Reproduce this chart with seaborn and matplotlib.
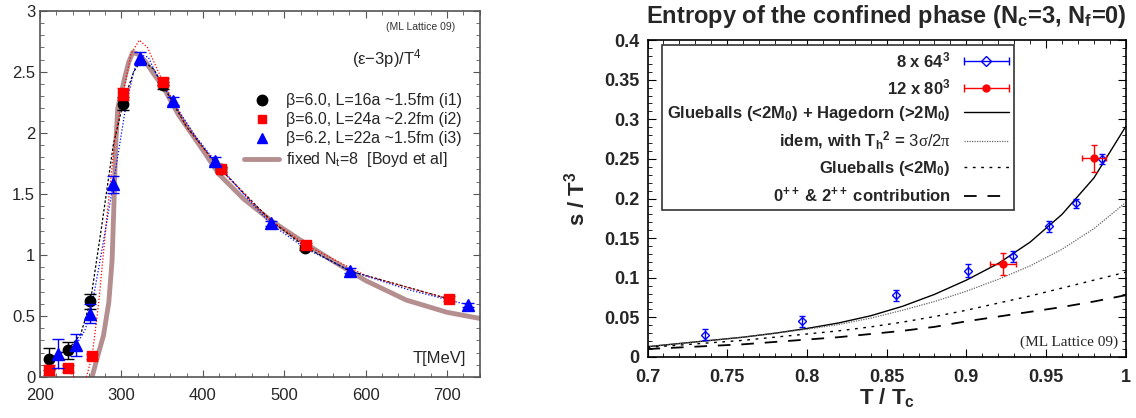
import matplotlib
matplotlib.use("Agg")
import matplotlib.pyplot as plt
import seaborn as sns
from matplotlib.lines import Line2D
from matplotlib.legend_handler import HandlerBase
from matplotlib.ticker import MultipleLocator, FuncFormatter

# ---- left panel: (e-3p)/T^4 vs T[MeV] ----
i1_T = [211, 234, 262, 302, 351, 422, 526]
i1_val = [0.15, 0.22, 0.62, 2.24, 2.39, 1.70, 1.06]
i1_err = [0.09, 0.07, 0.06, 0.05, 0.03, 0.02, 0.02]

i2_T = [211, 234, 264, 302, 351, 422, 527, 702]
i2_val = [0.06, 0.07, 0.17, 2.32, 2.42, 1.70, 1.08, 0.64]
i2_err = [0.04, 0.03, 0.02, 0.05, 0.03, 0.02, 0.02, 0.02]

i3_T = [222, 244, 262, 290, 323, 363, 415, 484, 581, 726]
i3_val = [0.19, 0.26, 0.52, 1.58, 2.61, 2.26, 1.77, 1.26, 0.87, 0.59]
i3_err = [0.12, 0.09, 0.08, 0.07, 0.05, 0.03, 0.03, 0.02, 0.02, 0.02]

# dotted guide curves
i1_curve_T = [211, 234, 250, 262, 275, 290, 302, 315, 325, 340, 351, 380, 422, 484, 527, 580, 702]
i1_curve_v = [0.15, 0.22, 0.35, 0.62, 1.20, 1.90, 2.24, 2.50, 2.60, 2.52, 2.39, 2.05, 1.70, 1.28, 1.06, 0.87, 0.64]
i2_curve_T = [211, 234, 242, 248, 257, 264, 272, 282, 292, 302, 312, 322, 332, 342, 351, 380, 422, 480, 527, 600, 702]
i2_curve_v = [0.06, 0.07, 0.0, -0.05, 0.0, 0.17, 0.60, 1.30, 1.95, 2.32, 2.65, 2.76, 2.70, 2.55, 2.42, 2.05, 1.70, 1.30, 1.08, 0.83, 0.64]
i3_curve_T = [222, 244, 255, 262, 275, 290, 305, 315, 323, 333, 345, 363, 390, 415, 450, 484, 527, 581, 650, 726]
i3_curve_v = [0.19, 0.26, 0.38, 0.52, 1.00, 1.58, 2.20, 2.50, 2.64, 2.62, 2.45, 2.26, 1.98, 1.77, 1.50, 1.25, 1.05, 0.87, 0.72, 0.59]

boyd_T = [264, 270, 278, 284.5, 288.6, 291, 293, 295.5, 300, 304, 309, 314, 322, 330, 340, 351, 370, 400,
          420, 450, 484, 527, 560, 600, 650, 700, 740]
boyd_v = [0.0, 0.15, 0.34, 0.61, 0.96, 1.45, 1.90, 2.20, 2.33, 2.45, 2.58, 2.66, 2.64, 2.58, 2.48, 2.38, 2.15, 1.86,
          1.66, 1.46, 1.28, 1.09, 0.95, 0.79, 0.63, 0.53, 0.48]

# ---- right panel: s/T^3 vs T/Tc ----
lat8_x = [0.736, 0.797, 0.856, 0.901, 0.929, 0.952, 0.969, 0.985]
lat8_y = [0.028, 0.045, 0.078, 0.109, 0.127, 0.165, 0.194, 0.250]
lat8_err = [0.007, 0.007, 0.007, 0.008, 0.007, 0.007, 0.006, 0.006]

lat12_x = [0.923, 0.980]
lat12_y = [0.117, 0.251]
lat12_xerr = [0.008, 0.0075]
lat12_yerr = [0.014, 0.017]

curve_x = [0.70, 0.72, 0.74, 0.76, 0.78, 0.80, 0.82, 0.84, 0.86, 0.88, 0.90, 0.92, 0.94, 0.96, 0.98, 1.00]
glue_hag = [0.013, 0.017, 0.021, 0.025, 0.030, 0.036, 0.043, 0.052, 0.064, 0.079, 0.097, 0.118, 0.145, 0.180, 0.226, 0.291]
idem_th = [0.013, 0.017, 0.021, 0.025, 0.030, 0.035, 0.041, 0.049, 0.059, 0.070, 0.083, 0.098, 0.115, 0.136, 0.162, 0.195]
glue_only = [0.012, 0.015, 0.018, 0.021, 0.025, 0.029, 0.033, 0.038, 0.044, 0.051, 0.059, 0.068, 0.077, 0.087, 0.097, 0.107]
contrib_02 = [0.010, 0.012, 0.014, 0.016, 0.019, 0.022, 0.025, 0.029, 0.033, 0.038, 0.045, 0.051, 0.057, 0.063, 0.070, 0.078]


class XErrHandler(HandlerBase):
    """gnuplot-like key: horizontal bar with end caps and the point marker in the middle"""
    def __init__(self, color, marker, mfc):
        super().__init__()
        self.color, self.marker, self.mfc = color, marker, mfc

    def create_artists(self, legend, orig_handle, xdescent, ydescent, width, height, fontsize, trans):
        y = height / 2 - ydescent
        x0, x1 = -xdescent, width - xdescent
        bar = Line2D([x0, x1], [y, y], color=self.color, lw=1.0, transform=trans)
        caps = Line2D([x0, x1], [y, y], color=self.color, ls='none', marker='|', ms=6, mew=1.0, transform=trans)
        pt = Line2D([(x0 + x1) / 2], [y], color=self.color, ls='none', marker=self.marker, mfc=self.mfc,
                    ms=5, mew=1.0, transform=trans)
        return [bar, caps, pt]


sns.set_style("ticks")
plt.rcParams['font.family'] = ['Liberation Sans', 'DejaVu Sans']
plt.rcParams['mathtext.fontset'] = 'custom'
plt.rcParams['mathtext.rm'] = 'Liberation Sans'
plt.rcParams['mathtext.bf'] = 'Liberation Sans:bold'
plt.rcParams['mathtext.it'] = 'Liberation Serif'
plt.rcParams['mathtext.default'] = 'bf'

fig = plt.figure(figsize=(11.36, 4.18), dpi=100)
ax1 = fig.add_axes([0.0352, 0.0981, 0.387, 0.876])
ax2 = fig.add_axes([0.570, 0.146, 0.421, 0.758])

fmt = FuncFormatter(lambda v, p: f"{v:g}")

# ---- left ----
RED, BLUE, BROWN = "#ff0000", "#0000ff", "#b58f8f"
sns.lineplot(x=boyd_T, y=boyd_v, sort=False, estimator=None, color=BROWN, lw=3.5, ax=ax1, zorder=2)
sns.lineplot(x=i1_curve_T, y=i1_curve_v, sort=False, estimator=None, color="black", lw=0.9,
             linestyle=(0, (2, 1.5)), ax=ax1, zorder=3)
sns.lineplot(x=i2_curve_T, y=i2_curve_v, sort=False, estimator=None, color=RED, lw=0.9,
             linestyle=(0, (1, 1.5)), ax=ax1, zorder=3)
sns.lineplot(x=i3_curve_T, y=i3_curve_v, sort=False, estimator=None, color=BLUE, lw=0.9,
             linestyle=(0, (1, 1.5)), ax=ax1, zorder=3)

ax1.errorbar(i1_T, i1_val, yerr=i1_err, fmt='o', color='black', ms=7.5, capsize=4, elinewidth=1, zorder=5)
ax1.errorbar(i2_T, i2_val, yerr=i2_err, fmt='s', color=RED, ms=7, capsize=4, elinewidth=1, zorder=6)
ax1.errorbar(i3_T, i3_val, yerr=i3_err, fmt='^', color=BLUE, ms=8, capsize=4, elinewidth=1, zorder=7)

ax1.set_xlim(200, 740)
ax1.set_ylim(0, 3)
ax1.xaxis.set_major_locator(MultipleLocator(100))
ax1.xaxis.set_minor_locator(MultipleLocator(20))
ax1.yaxis.set_major_locator(MultipleLocator(0.5))
ax1.yaxis.set_minor_locator(MultipleLocator(0.1))
ax1.xaxis.set_major_formatter(fmt)
ax1.yaxis.set_major_formatter(fmt)
ax1.tick_params(which='both', direction='in', top=True, right=True, color='#555555')
ax1.tick_params(which='major', length=5, labelsize=12)
ax1.tick_params(axis='x', which='major', pad=8)
ax1.tick_params(which='minor', length=3)
for s in ax1.spines.values():
    s.set_color('#555555')
    s.set_linewidth(1.2)

ax1.text(0.945, 0.955, "(ML Lattice 09)", transform=ax1.transAxes, ha='right', va='center', fontsize=7.5,
         color='#333333')
ax1.text(0.79, 0.87, r"(ε−3p)/T$^{\mathrm{4}}$", transform=ax1.transAxes, ha='center', va='center', fontsize=12)
ax1.text(0.97, 0.05, "T[MeV]", transform=ax1.transAxes, ha='right', va='center', fontsize=12)

left_handles = [
    Line2D([], [], marker='o', color='black', ls='none', ms=7.5),
    Line2D([], [], marker='s', color=RED, ls='none', ms=6),
    Line2D([], [], marker='^', color=BLUE, ls='none', ms=7.5),
    Line2D([], [], color=BROWN, lw=3.5),
]
left_labels = ["β=6.0, L=16a ~1.5fm (i1)", "β=6.0, L=24a ~2.2fm (i2)",
               "β=6.2, L=22a ~1.5fm (i3)", r"fixed N$_{\mathrm{t}}$=8  [Boyd et al]"]
ax1.legend(left_handles, left_labels, loc='upper right', bbox_to_anchor=(0.985, 0.805), frameon=False,
           fontsize=11.5, handlelength=2.2, handletextpad=0.4, labelspacing=0.25, borderpad=0.2)

# ---- right ----
sns.lineplot(x=curve_x, y=glue_hag, color='black', lw=1.0, ax=ax2)
sns.lineplot(x=curve_x, y=idem_th, color='#666666', lw=0.9, linestyle=(0, (1, 1)), ax=ax2)
sns.lineplot(x=curve_x, y=glue_only, color='black', lw=1.0, linestyle=(0, (2, 4)), ax=ax2)
sns.lineplot(x=curve_x, y=contrib_02, color='black', lw=1.3, linestyle=(0, (7, 6)), ax=ax2)

ax2.errorbar(lat8_x, lat8_y, yerr=lat8_err, fmt='D', color=BLUE, mfc='none', ms=4.5, mew=1.0,
             capsize=2.5, elinewidth=1, zorder=5)
ax2.errorbar(lat12_x, lat12_y, xerr=lat12_xerr, yerr=lat12_yerr, fmt='o', color=RED, ms=5,
             capsize=2.5, elinewidth=1, zorder=6)

ax2.set_xlim(0.7, 1.0)
ax2.set_ylim(0, 0.4)
ax2.xaxis.set_major_locator(MultipleLocator(0.05))
ax2.xaxis.set_minor_locator(MultipleLocator(0.01))
ax2.yaxis.set_major_locator(MultipleLocator(0.05))
ax2.yaxis.set_minor_locator(MultipleLocator(0.01))
ax2.xaxis.set_major_formatter(fmt)
ax2.yaxis.set_major_formatter(fmt)
ax2.tick_params(which='both', direction='in', top=True, right=True, color='black')
ax2.tick_params(which='major', length=6, labelsize=13, pad=6)
ax2.tick_params(axis='x', which='major', pad=9)
ax2.tick_params(which='minor', length=3)
for lab in ax2.get_xticklabels() + ax2.get_yticklabels():
    lab.set_fontweight('bold')
for s in ax2.spines.values():
    s.set_color('black')
    s.set_linewidth(1.2)

ax2.set_title(r"Entropy of the confined phase (N$_c$=3, N$_f$=0)", fontsize=17, fontweight='bold', pad=12)
ax2.set_xlabel(r"T / T$_c$", fontsize=16, fontweight='bold', labelpad=0)
ax2.set_ylabel(r"s / T$^3$", fontsize=16, fontweight='bold', labelpad=10)
ax2.text(0.985, 0.045, "(ML Lattice 09)", transform=ax2.transAxes, ha='right', va='center', fontsize=11,
         family='Liberation Serif')

h8 = Line2D([], [], color=BLUE)
h12 = Line2D([], [], color=RED)
right_handles = [
    h8,
    h12,
    Line2D([], [], color='black', lw=1.0),
    Line2D([], [], color='#666666', lw=0.9, linestyle=(0, (1, 1))),
    Line2D([], [], color='black', lw=1.0, linestyle=(0, (2, 4))),
    Line2D([], [], color='black', lw=1.3, linestyle=(0, (7, 6))),
]
right_labels = [r"8 x 64$^3$", r"12 x 80$^3$", r"Glueballs (<2M$_0$) + Hagedorn (>2M$_0$)",
                r"idem, with T$_h$$^2$ = $\mathit{3σ/2π}$", r"Glueballs (<2M$_0$)",
                r"0$^{++}$ & 2$^{++}$ contribution"]
leg = ax2.legend(right_handles, right_labels, loc='upper right', bbox_to_anchor=(0.766, 0.984),
                 markerfirst=False, fancybox=False, framealpha=1, edgecolor='#333333',
                 prop={'weight': 'bold', 'size': 12}, handlelength=2.7, handletextpad=0.8,
                 labelspacing=0.42, borderpad=0.3, borderaxespad=0,
                 handler_map={h8: XErrHandler(BLUE, 'D', 'none'), h12: XErrHandler(RED, 'o', RED)})
leg.get_frame().set_linewidth(1.2)

fig.savefig("out.png", dpi=100)
